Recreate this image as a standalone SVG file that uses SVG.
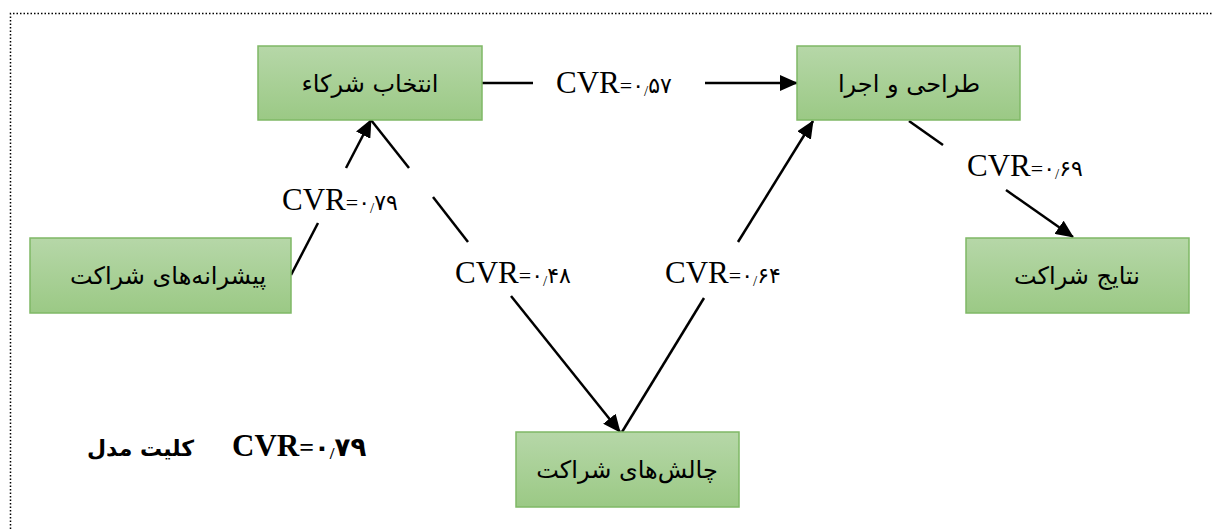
<svg xmlns="http://www.w3.org/2000/svg" width="1213" height="529" viewBox="0 0 1213 529">
<style>
.box{fill:url(#g);stroke:#7fb866;stroke-width:1.5}
.lbl{font-family:"DejaVu Sans",sans-serif;font-size:24px;fill:#000;text-anchor:middle}
.cvr{font-family:"Liberation Serif","DejaVu Sans",serif;fill:#000}
.big{font-size:31px}
.sm{font-size:22px}
.sl{font-size:15px}
.ln{stroke:#000;stroke-width:2.5;fill:none}
</style>
<defs>
<linearGradient id="g" x1="0" y1="0" x2="0" y2="1">
<stop offset="0" stop-color="#b6d7a8"/>
<stop offset="1" stop-color="#9bc985"/>
</linearGradient>
<marker id="ah" markerUnits="userSpaceOnUse" markerWidth="18" markerHeight="16" viewBox="0 0 18 16" refX="17" refY="8" orient="auto">
<path d="M0,0 L18,8 L0,16 Z" fill="#000"/>
</marker>
</defs>
<path d="M10.5,529 V13.5 H1213" fill="none" stroke="#000" stroke-width="1.5" stroke-dasharray="1.5,2"/>
<g id="connectors">
<line class="ln" x1="482" y1="83" x2="533" y2="83"/>
<line class="ln" x1="705" y1="83" x2="797" y2="83" marker-end="url(#ah)"/>
<line class="ln" x1="291" y1="275" x2="318" y2="223"/>
<line class="ln" x1="346" y1="168" x2="371" y2="120" marker-end="url(#ah)"/>
<line class="ln" x1="371" y1="120" x2="409" y2="168"/>
<line class="ln" x1="433" y1="197" x2="468" y2="242"/>
<line class="ln" x1="511" y1="296" x2="620" y2="432" marker-end="url(#ah)"/>
<line class="ln" x1="622" y1="432" x2="704" y2="298"/>
<line class="ln" x1="738" y1="242" x2="813" y2="121" marker-end="url(#ah)"/>
<line class="ln" x1="909" y1="121" x2="943" y2="145"/>
<line class="ln" x1="1006" y1="190" x2="1073" y2="237" marker-end="url(#ah)"/>
<text class="cvr" x="556" y="93"><tspan class="big">CVR</tspan><tspan class="sm">=۰</tspan><tspan class="sl" dy="3">/</tspan><tspan class="sm" dy="-3">۵۷</tspan></text>
<text class="cvr" x="282" y="210"><tspan class="big">CVR</tspan><tspan class="sm">=۰</tspan><tspan class="sl" dy="3">/</tspan><tspan class="sm" dy="-3">۷۹</tspan></text>
<text class="cvr" x="455" y="283"><tspan class="big">CVR</tspan><tspan class="sm">=۰</tspan><tspan class="sl" dy="3">/</tspan><tspan class="sm" dy="-3">۴۸</tspan></text>
<text class="cvr" x="665" y="283"><tspan class="big">CVR</tspan><tspan class="sm">=۰</tspan><tspan class="sl" dy="3">/</tspan><tspan class="sm" dy="-3">۶۴</tspan></text>
<text class="cvr" x="967" y="176"><tspan class="big">CVR</tspan><tspan class="sm">=۰</tspan><tspan class="sl" dy="3">/</tspan><tspan class="sm" dy="-3">۶۹</tspan></text>
</g>
<g id="n1"><rect class="box" x="258" y="46" width="224" height="74"/><text class="lbl" x="370" y="92">انتخاب شرکاء</text></g>
<g id="n2"><rect class="box" x="797" y="46" width="223" height="74"/><text class="lbl" x="909" y="92">طراحی و اجرا</text></g>
<g id="n3"><rect class="box" x="30" y="238" width="261" height="75"/><text class="lbl" x="168" y="284">پیشرانه‌های شراکت</text></g>
<g id="n4"><rect class="box" x="966" y="238" width="223" height="75"/><text class="lbl" x="1077" y="284">نتایج شراکت</text></g>
<g id="n5"><rect class="box" x="516" y="432" width="223" height="75"/><text class="lbl" x="627" y="478">چالش‌های شراکت</text></g>
<g id="total">
<text class="cvr" x="232" y="456" font-weight="bold"><tspan font-size="31px">CVR</tspan><tspan font-size="26px">=۰</tspan><tspan font-size="17px" dy="3">/</tspan><tspan font-size="26px" dy="-3">۷۹</tspan></text>
<text x="194" y="456" font-family="DejaVu Sans,sans-serif" font-size="22px" font-weight="bold" text-anchor="end">کلیت مدل</text>
</g>
</svg>
